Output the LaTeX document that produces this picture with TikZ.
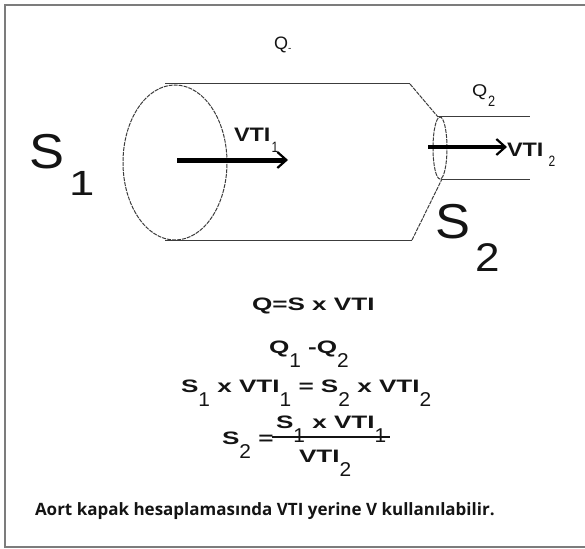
\documentclass[tikz,border=0pt]{standalone}
\usepackage{fontspec}
\setmainfont{Liberation Sans}
\newfontfamily\notefont{Open Sans}
\usetikzlibrary{arrows.meta}

\definecolor{ink}{HTML}{141414}
\definecolor{wallc}{HTML}{3C3C3C}
\definecolor{framec}{HTML}{7C7C7C}

% font helpers
\newcommand\fsz[1]{\fontsize{#1}{#1}\selectfont}
% stretched bold text used in the formulas
\newcommand\eqtxt[1]{\scalebox{1.45}[1]{\fsz{18}\bfseries #1}}
% dropped subscript used in the formulas
\newcommand\dn[1]{\raisebox{-14pt}{\scalebox{0.72}[1]{\fsz{20}\mdseries #1}}}

\tikzset{
  lbl/.style={inner sep=0pt, outer sep=0pt, anchor=base west, text=ink},
  wall/.style={draw=wallc, line width=1pt},
  rim/.style={draw=wallc, line width=1pt, dash pattern=on 4pt off 1pt},
  flow/.style={draw=black, -{Straight Barb[length=9pt,width=16pt,line width=2.2pt]}},
  frameline/.style={draw=framec, line width=1.3pt}
}

\begin{document}
\begin{tikzpicture}[x=1pt,y=-1pt]
\useasboundingbox (0,0) rectangle (585,548);

% outer frame (open to the right)
\coordinate (f1) at (586,5);
\coordinate (f2) at (5,5);
\coordinate (f3) at (5,547);
\coordinate (f4) at (586,547);
\draw[frameline] (f1) -- (f2) -- (f3) -- (f4);

% tube outline
\coordinate (tl) at (165,84);
\coordinate (tr) at (410,84);
\coordinate (nt) at (438,117);
\coordinate (nb) at (442,179);
\coordinate (br) at (412,240);
\coordinate (bl) at (165,240);
\coordinate (ot) at (530,117);
\coordinate (ob) at (530,179);
\draw[wall] (tl) -- (tr);
\draw[wall] (bl) -- (br);
\draw[rim] (tr) -- (nt);
\draw[rim] (br) -- (nb);
\draw[wall] (nt) -- (ot);
\draw[wall] (nb) -- (ob);

% cross sections
\coordinate (inlet) at (175,162.5);
\coordinate (outlet) at (440,148);
\draw[rim] (inlet) ellipse [x radius=52pt, y radius=77.5pt];
\draw[rim] (outlet) ellipse [x radius=7pt, y radius=31pt];

% velocity arrows
\coordinate (a1s) at (177,160);
\coordinate (a1e) at (288,160);
\coordinate (a2s) at (428,147);
\coordinate (a2e) at (507,147);
\draw[flow, line width=5pt] (a1s) -- (a1e);
\draw[flow, line width=4pt] (a2s) -- (a2e);

% area labels
\node[lbl] (s1) at (29.5,168) {\scalebox{1.07}[1]{\fsz{49}S}};
\node[lbl] (s1i) at (69,195) {\scalebox{1.3}[1]{\fsz{35}1}};
\node[lbl] (s2) at (435.5,238) {\scalebox{1.07}[1]{\fsz{49}S}};
\node[lbl] (s2i) at (475,271) {\scalebox{1.1}[1]{\fsz{40}2}};

% flow labels
\node[lbl] (q1) at (274,50) {\fsz{18}Q};
\node[lbl] (q1i) at (288,52) {\fsz{10}-};
\node[lbl] (q2) at (472,97) {\scalebox{1.15}[1]{\fsz{17}Q}};
\node[lbl] (q2i) at (488,107) {\scalebox{0.85}[1]{\fsz{15}2}};

% velocity labels
\node[lbl] (v1) at (234,142) {\scalebox{1.2}[1]{\fsz{19.5}\bfseries VTI}};
\node[lbl] (v1i) at (271.5,152) {\scalebox{0.8}[1]{\fsz{15}1}};
\node[lbl] (v2) at (507,157) {\scalebox{1.2}[1]{\fsz{19.5}\bfseries VTI}};
\node[lbl] (v2i) at (548.5,166) {\scalebox{0.8}[1]{\fsz{15}2}};

% formulas
\node[lbl] (e1) at (252,310) {\eqtxt{Q=S x VTI}};
\node[lbl] (e2) at (269,353) {\eqtxt{Q\dn{1} -Q\dn{2}}};
\node[lbl] (e3) at (181,392) {\eqtxt{S\dn{1} x VTI\dn{1} = S\dn{2} x VTI\dn{2}}};
\node[lbl] (e4s) at (222,444) {\eqtxt{S\dn{2} =}};
\node[lbl] (e4n) at (276,428) {\eqtxt{S\dn{1} x VTI\dn{1}}};
\coordinate (barl) at (272,437);
\coordinate (barr) at (390,437);
\draw[draw=ink, line width=2pt] (barl) -- (barr);
\node[lbl] (e4d) at (299,462) {\eqtxt{VTI\dn{2}}};

% note
\node[lbl] (note) at (35,515) {\notefont\fsz{17}\bfseries Aort kapak hesaplamasında VTI yerine V kullanılabilir.};
\end{tikzpicture}
\end{document}
